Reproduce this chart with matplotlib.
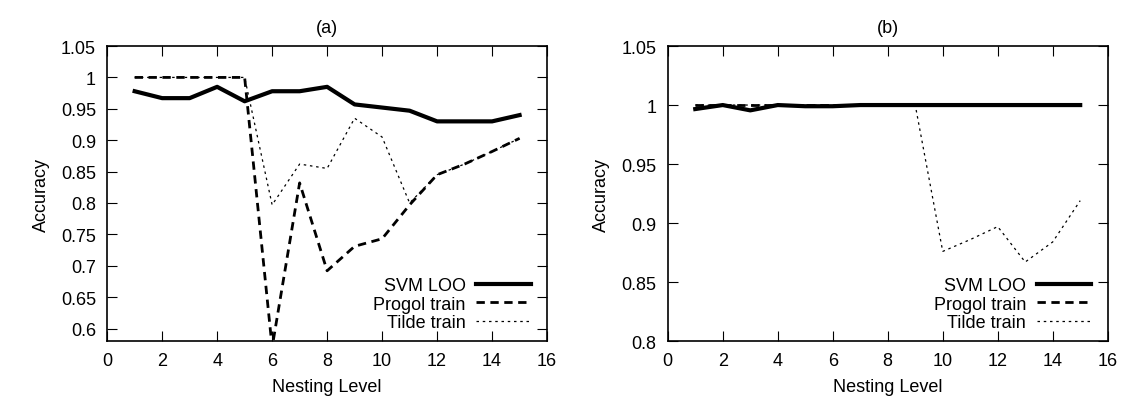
import matplotlib.pyplot as plt

# ----------------------------------------------------------------
# Data
# ----------------------------------------------------------------
levels = list(range(1, 16))

# panel (a)
svm_a = [0.978, 0.967, 0.967, 0.985, 0.962, 0.978, 0.978, 0.985,
         0.957, 0.952, 0.947, 0.930, 0.930, 0.930, 0.940]
progol_a = [1.0, 1.0, 1.0, 1.0, 1.0, 0.57, 0.832, 0.692,
            0.731, 0.743, 0.797, 0.845, 0.862, 0.882, 0.903]
tilde_a = [1.0, 1.0, 1.0, 1.0, 1.0, 0.797, 0.862, 0.855,
           0.935, 0.905, 0.800, 0.845, 0.862, 0.882, 0.903]

# panel (b)
svm_b = [0.9966, 1.0, 0.9955, 1.0, 0.999, 0.999, 1.0, 1.0,
         1.0, 1.0, 1.0, 1.0, 1.0, 1.0, 1.0]
progol_b = [1.0] * 15
tilde_b = [1.0, 1.0, 1.0, 1.0, 1.0, 1.0, 1.0, 1.0,
           1.0, 0.876, 0.886, 0.897, 0.867, 0.884, 0.919]

x_ticks = [0, 2, 4, 6, 8, 10, 12, 14, 16]
y_ticks_a = [0.6, 0.65, 0.7, 0.75, 0.8, 0.85, 0.9, 0.95, 1.0, 1.05]
y_ticks_b = [0.8, 0.85, 0.9, 0.95, 1.0, 1.05]
y_labels_a = ["0.6", "0.65", "0.7", "0.75", "0.8", "0.85", "0.9", "0.95", "1", "1.05"]
y_labels_b = ["0.8", "0.85", "0.9", "0.95", "1", "1.05"]

plt.rcParams['font.family'] = ['Liberation Sans', 'DejaVu Sans']

fig = plt.figure(figsize=(11.28, 4.02), dpi=100)
ax_a = fig.add_axes([0.095, 0.149, 0.390, 0.734])
ax_b = fig.add_axes([0.592, 0.149, 0.390, 0.734])


def draw_panel(ax, svm, progol, tilde, ylim, yticks, ylabels, title):
    ax.plot(levels, svm, color="black", linewidth=3.0, label="SVM LOO")
    ax.plot(levels, progol, color="black", linewidth=2.0,
            linestyle=(0, (3, 2)), label="Progol train")
    ax.plot(levels, tilde, color="black", linewidth=0.9,
            linestyle=(0, (2, 3)), label="Tilde train")
    ax.set_xlim(0, 16)
    ax.set_ylim(*ylim)
    ax.set_xticks(x_ticks)
    ax.set_yticks(yticks)
    ax.set_yticklabels(ylabels)
    ax.tick_params(direction="in", top=True, right=True, length=7,
                   labelsize=13, pad=8)
    for s in ax.spines.values():
        s.set_linewidth(1.2)
    ax.set_xlabel("Nesting Level", fontsize=13, labelpad=6)
    ax.set_ylabel("Accuracy", fontsize=13, labelpad=8)
    ax.set_title(title, fontsize=13, pad=10)
    ax.legend(loc="lower right", frameon=False, markerfirst=False,
              fontsize=13, handlelength=3.0, handletextpad=0.6,
              labelspacing=0.08, borderaxespad=0.15,
              bbox_to_anchor=(0.985, 0.0))


draw_panel(ax_a, svm_a, progol_a, tilde_a, (0.58, 1.05),
           y_ticks_a, y_labels_a, "(a)")
draw_panel(ax_b, svm_b, progol_b, tilde_b, (0.8, 1.05),
           y_ticks_b, y_labels_b, "(b)")

fig.savefig("out.png", dpi=100)
